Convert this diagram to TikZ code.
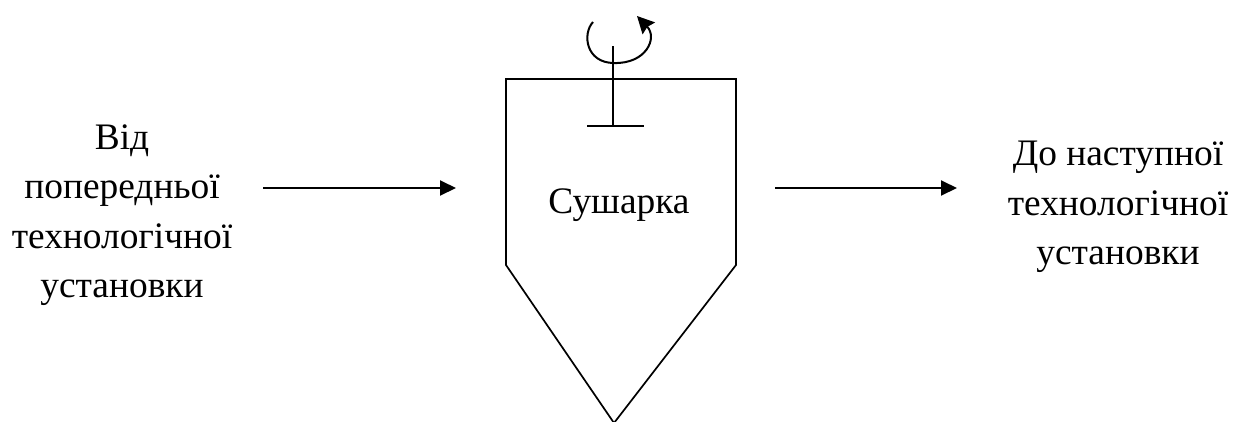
\documentclass[tikz,border=0pt]{standalone}
\usepackage{fontspec}
\setmainfont{Liberation Serif}
\usetikzlibrary{arrows.meta,positioning}
\tikzset{
  label text/.style={font=\fontsize{37.4}{49.5}\selectfont,align=center,inner sep=0pt},
  flow arrow/.style={-{Stealth[length=16pt,width=15pt,inset=0pt]},line width=1.9pt}
}
\begin{document}
\begin{tikzpicture}[x=1pt,y=-1pt,line width=1.7pt]
\useasboundingbox (0,0) rectangle (1233,421);
\node[label text] (src) at (122,215) {Від\\попередньої\\технологічної\\установки};
\node[label text] (dst) at (1118,207) {До наступної\\технологічної\\установки};
\node[label text] (dryer) at (619,205) {Сушарка};
\coordinate (srcend) at (263,188);
\coordinate (inlet) at (456,188);
\coordinate (outlet) at (775,188);
\coordinate (dstend) at (957,188);
\draw[flow arrow] (srcend) -- (inlet);
\draw[flow arrow] (outlet) -- (dstend);
% body
\draw (506,79) -- (736,79) -- (736,265) -- (614,423) -- (506,265) -- cycle;
% stirrer
\coordinate (top) at (613,46);
\coordinate (bot) at (613,126);
\draw (top) -- (bot);
\draw (587,126) -- (644,126);
\draw[line width=2pt,-{Stealth[length=17pt,width=17pt,inset=2pt]}] (593,22) .. controls (582,34) and (586,63) .. (614,63) .. controls (646,64) and (658,38) .. (637,16);
\end{tikzpicture}
\end{document}
